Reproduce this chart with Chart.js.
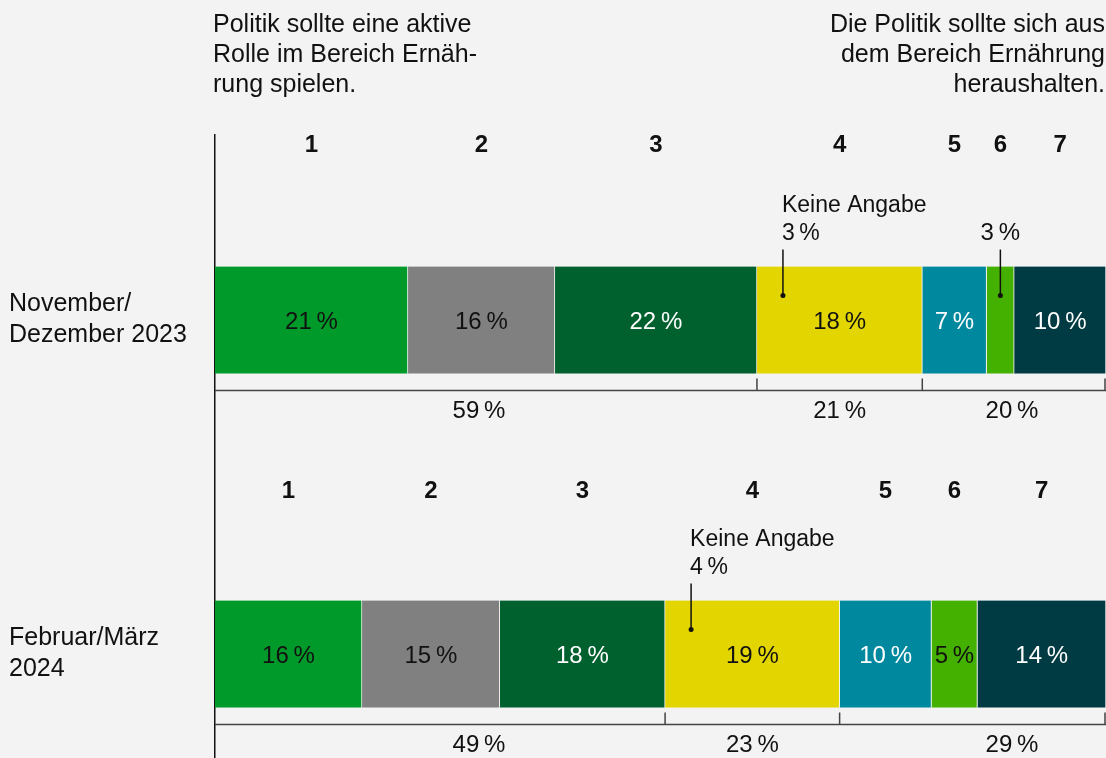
<!DOCTYPE html>
<html lang="de">
<head>
<meta charset="utf-8">
<title>Rolle der Politik im Bereich Ernährung</title>
<script src="https://cdn.jsdelivr.net/npm/chart.js@4"></script>
<style>
  html, body { margin: 0; padding: 0; background: #f3f3f3; }
  canvas { display: block; }
</style>
</head>
<body>
<canvas id="chart" width="1106" height="758"></canvas>
<script>
// Survey waves (one bar each)
const waves = [['November/', 'Dezember 2023'], ['Februar/März', '2024']];
// Scale points
const levels = ['1', '2', '3', '4', '5', '6', '7'];
// Share per scale point, one value per wave (percent)
const level1 = [21, 16];
const level2 = [16, 15];
const level3 = [22, 18];
const level4 = [18, 19];
const level5 = [7, 10];
const level6 = [3, 5];
const level7 = [10, 14];
// "Keine Angabe" is not drawn as a bar, it is counted with the middle group
const noAnswer = [3, 4];

const headerLeft = ['Politik sollte eine aktive', 'Rolle im Bereich Ernäh-', 'rung spielen.'];
const headerRight = ['Die Politik sollte sich aus', 'dem Bereich Ernährung', 'heraushalten.'];

const series = [level1, level2, level3, level4, level5, level6, level7];
const colors = ['#009a2a', '#808080', '#00612f', '#e3d600', '#00889e', '#44b000', '#003a42'];
const labelColors = ['#111', '#111', '#fff', '#111', '#fff', '#111', '#fff'];
const FONT = '"Liberation Sans", Arial, sans-serif';
const TEXT = '#111';

const pct = v => v + '\u2009%';
const sum = arr => arr.reduce((a, b) => a + b, 0);
const rowTotals = waves.map((w, r) => sum(series.map(s => s[r])));

// groups: 1-3 / 4 + keine Angabe / 5-7
const groupTotals = waves.map((w, r) => [
  level1[r] + level2[r] + level3[r],
  level4[r] + noAnswer[r],
  level5[r] + level6[r] + level7[r]
]);

function leader(ctx, x, top) {
  ctx.strokeStyle = TEXT;
  ctx.lineWidth = 1.5;
  ctx.beginPath();
  ctx.moveTo(x, top - 17);
  ctx.lineTo(x, top + 29);
  ctx.stroke();
  ctx.fillStyle = TEXT;
  ctx.beginPath();
  ctx.arc(x, top + 29, 2.5, 0, Math.PI * 2);
  ctx.fill();
}

const annotations = {
  id: 'annotations',
  afterDatasetsDraw(chart) {
    const { ctx, chartArea } = chart;
    const numY = [145, 491];
    ctx.save();
    ctx.textBaseline = 'middle';

    // header
    ctx.fillStyle = TEXT;
    ctx.font = '25px ' + FONT;
    ctx.textAlign = 'left';
    headerLeft.forEach((t, i) => ctx.fillText(t, 213, 25 + i * 30));
    ctx.textAlign = 'right';
    headerRight.forEach((t, i) => ctx.fillText(t, 1105, 25 + i * 30));

    waves.forEach((wave, r) => {
      const els = series.map((s, i) => chart.getDatasetMeta(i).data[r]);
      const cy = els[0].y;
      const h = els[0].height;
      const top = cy - h / 2;
      const bottom = cy + h / 2;

      // row label
      ctx.font = '25px ' + FONT;
      ctx.textAlign = 'left';
      ctx.fillStyle = TEXT;
      ctx.fillText(wave[0], 9, cy - 16);
      ctx.fillText(wave[1], 9, cy + 15);

      els.forEach((el, i) => {
        const x0 = el.base, x1 = el.x, cx = (x0 + x1) / 2;
        ctx.textAlign = 'center';
        ctx.font = 'bold 24px ' + FONT;
        ctx.fillStyle = TEXT;
        ctx.fillText(levels[i], cx, numY[r]);

        ctx.font = '24px ' + FONT;
        const txt = pct(series[i][r]);
        if (ctx.measureText(txt).width + 4 < x1 - x0) {
          ctx.fillStyle = labelColors[i];
          ctx.fillText(txt, cx, cy + 2);
        } else {
          ctx.fillStyle = TEXT;
          ctx.fillText(txt, cx, top - 33);
          leader(ctx, cx, top);
        }
      });

      // Keine Angabe
      const kx = els[3].base + 26;
      ctx.font = '23px ' + FONT;
      ctx.textAlign = 'left';
      ctx.fillStyle = TEXT;
      ctx.fillText('Keine Angabe', kx - 1, top - 61);
      ctx.fillText(pct(noAnswer[r]), kx - 1, top - 33);
      leader(ctx, kx, top);

      // brackets below the bar
      const by = bottom + 17;
      ctx.strokeStyle = '#444';
      ctx.lineWidth = 1.5;
      ctx.beginPath();
      ctx.moveTo(chartArea.left, by);
      ctx.lineTo(chartArea.right, by);
      [els[2].x, els[3].x, els[6].x].forEach(x => {
        const tx = Math.min(x, chartArea.right - 1);
        ctx.moveTo(tx, by - 12);
        ctx.lineTo(tx, by);
      });
      ctx.stroke();

      ctx.font = '24px ' + FONT;
      ctx.textAlign = 'center';
      ctx.fillStyle = TEXT;
      const labelX = [479, (els[3].base + els[3].x) / 2, 1012];
      groupTotals[r].forEach((v, g) => ctx.fillText(pct(v), labelX[g], bottom + 38));
    });
    ctx.restore();
  }
};

new Chart(document.getElementById('chart'), {
  type: 'bar',
  data: {
    datasets: levels.map((lv, i) => ({
      label: lv,
      data: series[i].map((v, r) => ({ x: v, y: r })),
      backgroundColor: colors[i],
      borderColor: '#f3f3f3',
      borderWidth: { left: 0, right: 1, top: 0, bottom: 0 },
      borderSkipped: false,
      barThickness: 107
    }))
  },
  options: {
    indexAxis: 'y',
    responsive: false,
    animation: false,
    layout: { padding: { left: 215, top: 135, right: 0, bottom: 0 } },
    scales: {
      x: { stacked: true, min: 0, max: Math.max(...rowTotals), display: false },
      y: {
        type: 'linear',
        stacked: true,
        reverse: true,
        offset: false,
        min: -0.554,
        max: 1.311,
        ticks: { display: false },
        grid: { display: false, offset: false },
        border: { display: true, color: '#111', width: 1.5 },
        afterFit: s => { s.width = 0; }
      }
    },
    plugins: {
      legend: { display: false },
      tooltip: { enabled: false }
    }
  },
  plugins: [annotations]
});
</script>
</body>
</html>
